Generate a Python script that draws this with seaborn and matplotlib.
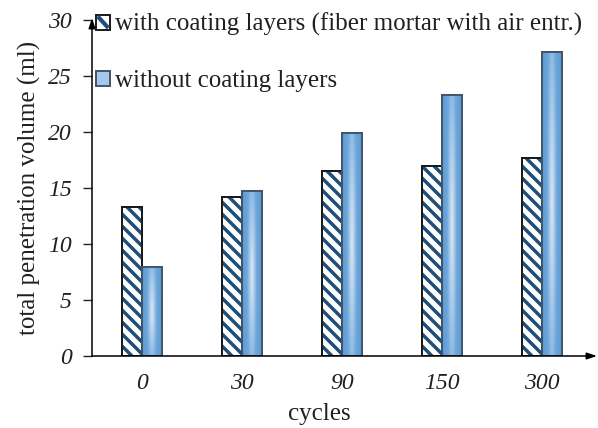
import numpy as np
import pandas as pd
import seaborn as sns
import matplotlib.pyplot as plt
from matplotlib.colors import LinearSegmentedColormap
from matplotlib.patches import Patch, Rectangle
from matplotlib.lines import Line2D
from matplotlib.collections import LineCollection
from matplotlib.transforms import IdentityTransform
from matplotlib.legend_handler import HandlerBase

cycles = ['0', '30', '90', '150', '300']
with_coating = [13.3, 14.2, 16.5, 17.0, 17.7]
without_coating = [7.95, 14.7, 19.9, 23.3, 27.1]
series = ['with coating layers (fiber mortar with air entr.)', 'without coating layers']

df = pd.DataFrame({
    'cycles': cycles * 2,
    'volume': with_coating + without_coating,
    'series': [series[0]] * len(cycles) + [series[1]] * len(cycles),
})

sns.set_style('white')
plt.rcParams['font.family'] = ['Liberation Serif', 'DejaVu Serif']
txt = '#231f20'
navy = '#1f4e79'
edge_blue = '#44546a'


class StripeHandler(HandlerBase):
    # white square, black frame, one thick navy diagonal
    def create_artists(self, legend, orig_handle, xdescent, ydescent,
                       width, height, fontsize, trans):
        x0, y0 = -xdescent, -ydescent
        box = Rectangle((x0, y0), width, height, facecolor='white',
                        edgecolor='#1a1a1a', linewidth=1.4, transform=trans)
        line = Line2D([x0 + 0.12 * width, x0 + 0.88 * width],
                      [y0 + 0.88 * height, y0 + 0.12 * height],
                      color=navy, linewidth=3, solid_capstyle='butt', transform=trans)
        return [box, line]


fig = plt.figure(figsize=(5.98, 4.28), dpi=100)
ax = fig.add_axes([92 / 598, 1 - 356 / 428, 505 / 598, 336 / 428])

sns.barplot(data=df, x='cycles', y='volume', hue='series', order=cycles,
            hue_order=series, width=0.4, gap=0, palette=['white', '#5b9bd5'],
            ax=ax, legend=False, saturation=1)

ax.set_xlim(-0.5, 4.55)
ax.set_ylim(0, 30)

n = len(cycles)
hatched = ax.patches[:n]
blue = ax.patches[n:2 * n]

# diagonal stripes drawn in pixel space, clipped to each hatched bar
for p in hatched:
    p.set_edgecolor('#1a1a1a')
    p.set_linewidth(1.4)
    p.set_facecolor('white')
    bb = p.get_window_extent()
    segs = []
    c = bb.x0 + bb.y0 - 2
    while c < bb.x1 + bb.y1 + 20:
        segs.append([(c - bb.y1 - 5, bb.y1 + 5), (c - bb.y0 + 5, bb.y0 - 5)])
        c += 12
    lc = LineCollection(segs, colors=navy, linewidths=2.5,
                        transform=IdentityTransform(), zorder=p.get_zorder() + 0.1)
    ax.add_collection(lc, autolim=False)
    lc.set_clip_path(p)
    ax.add_patch(Rectangle((p.get_x(), p.get_y()), p.get_width(), p.get_height(),
                           fill=False, edgecolor='#1a1a1a', linewidth=1.4,
                           zorder=p.get_zorder() + 0.2))

cmap = LinearSegmentedColormap.from_list('g', ['#5b9bd5', '#6ea7db', '#dde9f6'])
for p in blue:
    p.set_edgecolor(edge_blue)
    p.set_linewidth(1.4)
    x0, y0 = p.get_x(), p.get_y()
    w, h = p.get_width(), p.get_height()
    xx = np.linspace(-1, 1, 60)
    yy = np.linspace(-1, 1, 200)
    X, Y = np.meshgrid(xx, yy)
    Z = 1 - np.clip(np.sqrt(X ** 2 + (0.35 * Y) ** 2), 0, 1)
    im = ax.imshow(Z, extent=[x0, x0 + w, y0, y0 + h], cmap=cmap, aspect='auto',
                   origin='lower', zorder=p.get_zorder() + 0.1, vmin=0, vmax=1)
    im.set_clip_path(p)
    ax.add_patch(Rectangle((x0, y0), w, h, fill=False, edgecolor=edge_blue,
                           linewidth=1.4, zorder=p.get_zorder() + 0.2))

ax.set_xlim(-0.5, 4.55)
ax.set_ylim(0, 30)
ax.set_yticks(range(0, 31, 5))
for s in ax.spines.values():
    s.set_visible(False)
arrow = dict(arrowstyle='-|>,head_length=0.6,head_width=0.2', color='black',
             lw=1.1, shrinkA=0, shrinkB=0)
ax.annotate('', xy=(0, 1.006), xytext=(0, 0), xycoords='axes fraction', arrowprops=arrow)
ax.annotate('', xy=(1, 0), xytext=(0, 0), xycoords='axes fraction', arrowprops=arrow)

ax.tick_params(axis='y', left=True, length=6.5, width=1, pad=8, labelsize=17,
               labelcolor=txt)
ax.tick_params(axis='x', bottom=False, length=0, pad=12, labelsize=17,
               labelcolor=txt)
for lab in ax.get_xticklabels() + ax.get_yticklabels():
    lab.set_fontstyle('italic')

ax.set_xlabel('cycles', fontsize=18, color=txt)
ax.xaxis.set_label_coords(0.45, -0.14)
ax.set_ylabel('total penetration volume (ml)', fontsize=18, color=txt)
ax.yaxis.set_label_coords(-0.101, 0.5)

h1 = Patch(facecolor='white', edgecolor='#1a1a1a')
h2 = Patch(facecolor='#a8c8ea', edgecolor=edge_blue, linewidth=1.4)
ax.legend([h1, h2], series, loc='upper left', bbox_to_anchor=(96 / 598, 1 - 13 / 428),
          bbox_transform=fig.transFigure, frameon=False, fontsize=18,
          handlelength=0.56, handleheight=0.56, handletextpad=0.2,
          labelspacing=1.35, borderaxespad=0, borderpad=0, labelcolor=txt,
          handler_map={h1: StripeHandler()})

fig.savefig('out.png', dpi=100)
